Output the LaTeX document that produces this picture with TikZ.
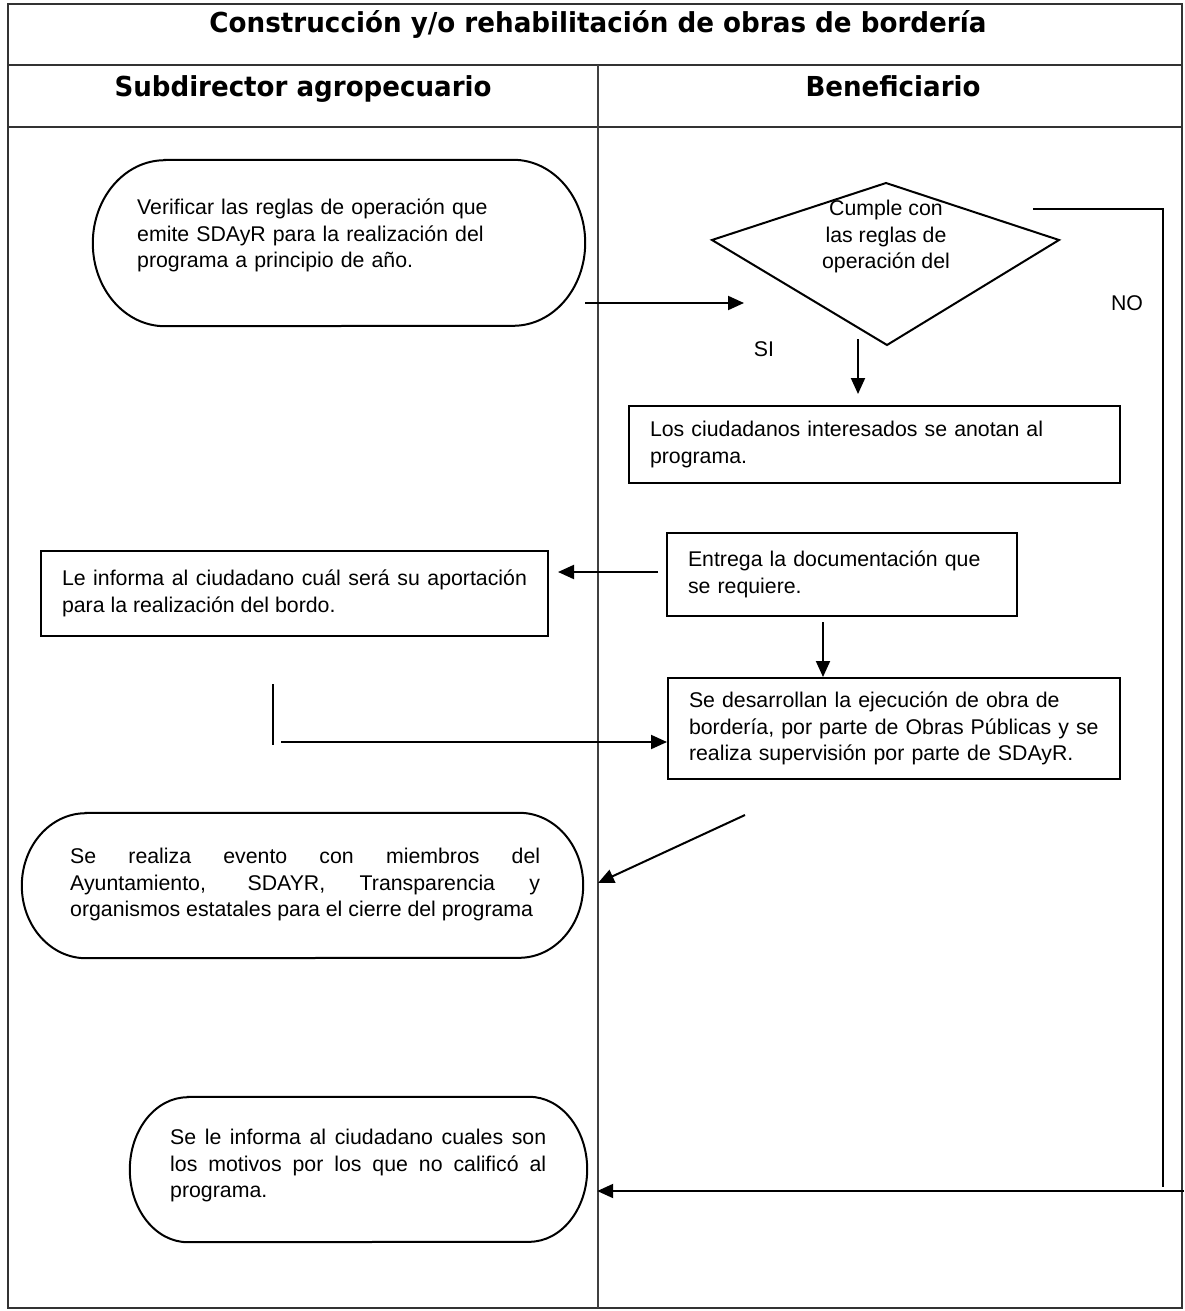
\documentclass[tikz,border=0pt]{standalone}
\usepackage{fontspec}
\usepackage{graphicx}
\setmainfont{Liberation Sans}
\newfontfamily\headfont{DejaVu Sans}
\usetikzlibrary{arrows.meta}

% stadium-shaped terminal outline around a node: #1 node, #2 x radius, #3 y radius
\newcommand\stadium[3]{%
  \draw[outline] ([xshift=#2pt]#1.north west) -- ([xshift=-#2pt]#1.north east)
    arc[start angle=90,end angle=-90,x radius=#2pt,y radius=#3pt]
    -- ([xshift=#2pt]#1.south west)
    arc[start angle=270,end angle=90,x radius=#2pt,y radius=#3pt] -- cycle;}

\tikzset{
  frame/.style={line width=2.4pt, draw=black!80},
  lane/.style={line width=1.4pt, draw=black!75},
  outline/.style={line width=2pt, draw=black},
  head/.style={font=\headfont\bfseries\fontsize{27.5}{32}\selectfont, inner sep=0pt, anchor=base},
  body/.style={font=\fontsize{21.3}{26.5}\selectfont},
  txt/.style={body, inner sep=0pt, align=left},
  term/.style={inner sep=0pt},
  procbox/.style={body, draw, line width=2pt, inner ysep=0pt, inner xsep=21pt},
  conn/.style={line width=2pt, -{Triangle[length=16pt,width=14pt]}},
  plain/.style={line width=2pt},
}

\begin{document}
\begin{tikzpicture}[x=1pt,y=1pt]
\fill[white] (0,0) rectangle (1184,-1311);
\useasboundingbox (0,0) rectangle (1184,-1311);

% swimlane table
\draw[frame] (8,-4) rectangle (1182,-1308);
\draw[frame] (8,-65) -- (1182,-65);
\draw[frame] (8,-127) -- (1182,-127);
\draw[lane] (598,-65) -- (598,-1308);

\node[head] (title) at (598,-33) {\resizebox{777pt}{\height}{Construcción y/o rehabilitación de obras de bordería}};
\node[head] (lane1) at (303,-97) {\resizebox{377pt}{\height}{Subdirector agropecuario}};
\node[head] (lane2) at (893,-96) {\resizebox{175pt}{\height}{Beneficiario}};

% start terminal
\node[term, minimum width=492pt, minimum height=166pt] (t1) at (339,-243) {};
\stadium{t1}{72}{83}
\node[txt, anchor=west, text width=380pt] (t1txt) at (137,-235.5)
  {Verificar las reglas de operación que\\emite SDAyR para la realización del\\programa a principio de año.};

% decision
\coordinate (dtop) at (886,-183);
\coordinate (dright) at (1059,-240);
\coordinate (dbottom) at (887,-345);
\coordinate (dleft) at (712,-240);
\draw[outline, line join=miter] (dtop) -- (dright) -- (dbottom) -- (dleft) -- cycle;
\node[txt, align=center] (dtxt) at (886,-236.5) {Cumple con\\las reglas de\\operación del};

% process boxes
\node[procbox, align=left, text width=449pt, minimum height=77pt, inner xsep=21pt] (b1) at (874.5,-444.5)
  {Los ciudadanos interesados se anotan al\\programa.};
\node[procbox, align=left, text width=308pt, minimum height=83pt] (b2) at (842,-574.5)
  {Entrega la documentación que\\se requiere.};
\node[procbox, align=justify, text width=465pt, minimum height=85pt] (b3) at (294.5,-593.5)
  {Le informa al ciudadano cuál será su aportación\linebreak para la realización del bordo.};
\node[procbox, align=left, text width=410pt, minimum height=101pt] (b4) at (894,-728.5)
  {Se desarrollan la ejecución de obra de\\bordería, por parte de Obras Públicas y se\\realiza supervisión por parte de SDAyR.};

% closing terminals
\node[term, minimum width=561pt, minimum height=145pt] (t2) at (302.5,-885.5) {};
\stadium{t2}{64}{72.5}
\node[txt, align=justify, anchor=west, text width=470pt] (t2txt) at (70,-884.5)
  {Se realiza evento con miembros del\linebreak Ayuntamiento, SDAYR, Transparencia y\linebreak organismos estatales para el cierre del programa};

\node[term, minimum width=457pt, minimum height=145pt] (t3) at (358.5,-1169.5) {};
\stadium{t3}{58}{72.5}
\node[txt, align=justify, anchor=west, text width=376pt] (t3txt) at (170,-1165.5)
  {Se le informa al ciudadano cuales son\linebreak los motivos por los que no calificó al\linebreak programa.};

% branch labels
\node[body, inner sep=0pt] (si) at (764,-349) {SI};
\node[body, inner sep=0pt] (no) at (1127,-303) {NO};

% connectors
\coordinate (a1s) at ([yshift=-60pt]t1.east);
\coordinate (a1e) at (744,-303);
\draw[conn] (a1s) -- (a1e);

\coordinate (sis) at (858,-339);
\draw[conn, shorten >=11pt] (sis) -- (sis |- b1.north);

\coordinate (nos) at (1033,-209);
\coordinate (nocorner) at (1163,-209);
\coordinate (nobottom) at (1163,-1187);
\draw[plain] (nos) -- (nocorner) -- (nobottom);
\coordinate (noret) at (1184,-1191);
\coordinate (t3in) at ([xshift=10pt]t3.east);
\draw[conn] (noret) -- (t3in |- noret);

\coordinate (a4s) at ([xshift=-8pt,yshift=2.5pt]b2.west);
\draw[conn, shorten >=9pt] (a4s) -- (a4s -| b3.east);

\coordinate (a5s) at (823,-622);
\draw[conn] (a5s) -- (a5s |- b4.north);

\coordinate (bartop) at (273,-684);
\coordinate (barbot) at (273,-745);
\draw[plain] (bartop) -- (barbot);
\coordinate (a6s) at (281,-742);
\draw[conn] (a6s) -- (a6s -| b4.west);

\coordinate (a7s) at (745,-815);
\coordinate (a7e) at (598,-883);
\draw[conn] (a7s) -- (a7e);
\end{tikzpicture}
\end{document}
